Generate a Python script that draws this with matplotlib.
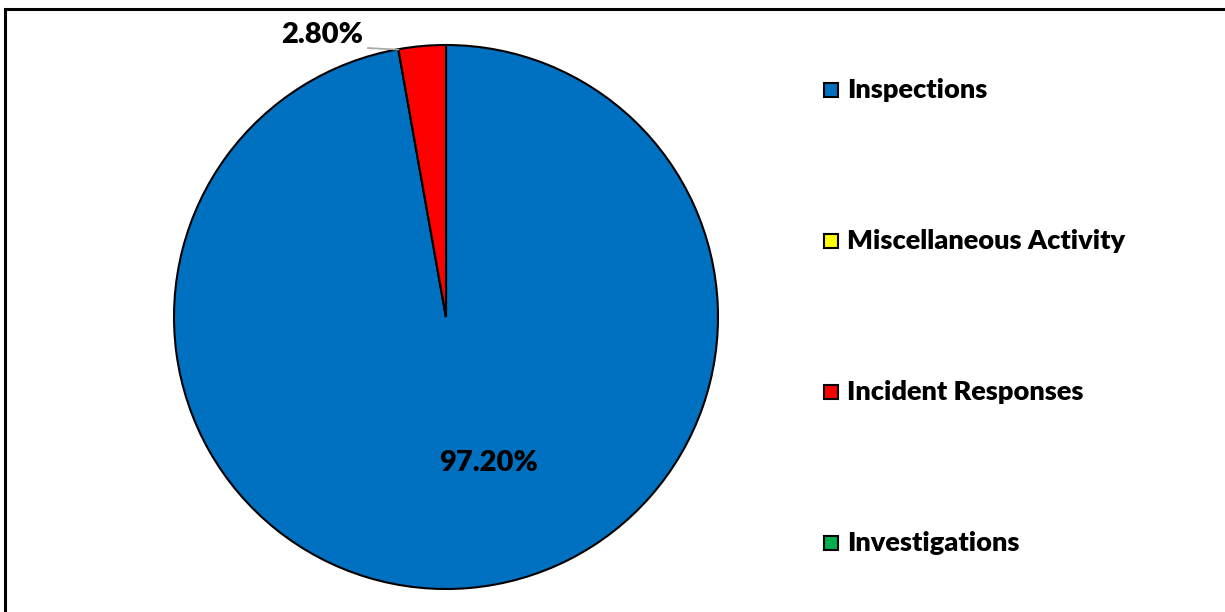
import matplotlib
matplotlib.use("Agg")
import matplotlib.pyplot as plt
from matplotlib.patches import Rectangle

categories = ["Inspections", "Miscellaneous Activity", "Incident Responses", "Investigations"]
values = [97.2, 0.0, 2.8, 0.0]
colors = ["#0070C0", "#FFFF00", "#FF0000", "#00B050"]
pct_labels = ["97.20%", "", "2.80%", ""]

W, H = 1225, 612
fig = plt.figure(figsize=(W / 100, H / 100), dpi=100)
plt.rcParams['font.family'] = ['Lato', 'DejaVu Sans']

# outer frame
fig.patches.append(Rectangle((5 / W, -0.05), 1.2, (H - 8.5) / H + 0.05,
                             transform=fig.transFigure, fill=False,
                             edgecolor="black", linewidth=2.2))

cx, cy, r = 446, 317, 272
ax = fig.add_axes([(cx - r) / W, (H - cy - r) / H, 2 * r / W, 2 * r / H])
wedges, _ = ax.pie(values, colors=colors, startangle=90, counterclock=False,
                   wedgeprops=dict(edgecolor="black", linewidth=1.5))
ax.set_xlim(-1, 1)
ax.set_ylim(-1, 1)
ax.set_aspect("equal")
ax.axis("off")

# labels
ax.text(0.158, -0.537, pct_labels[0], ha="center", va="center",
        fontsize=21, fontweight="heavy", color="black")
ax.text(-0.456, 1.035, pct_labels[2], ha="center", va="center",
        fontsize=21, fontweight="heavy", color="black", clip_on=False)
ax.plot([-0.287, -0.175], [0.989, 0.983], color="#A6A6A6", linewidth=1.2,
        clip_on=False)

# legend
ys = [90, 241, 392, 543]
for lab, col, y in zip(categories, colors, ys):
    fig.patches.append(Rectangle((824 / W, (H - y - 7) / H), 14 / W, 14 / H,
                                 transform=fig.transFigure, facecolor=col,
                                 edgecolor="black", linewidth=1.5))
    fig.text(847 / W, (H - y) / H, lab, ha="left", va="center",
             fontsize=19.5, fontweight="heavy", color="black")

fig.savefig("out.png", dpi=100)
